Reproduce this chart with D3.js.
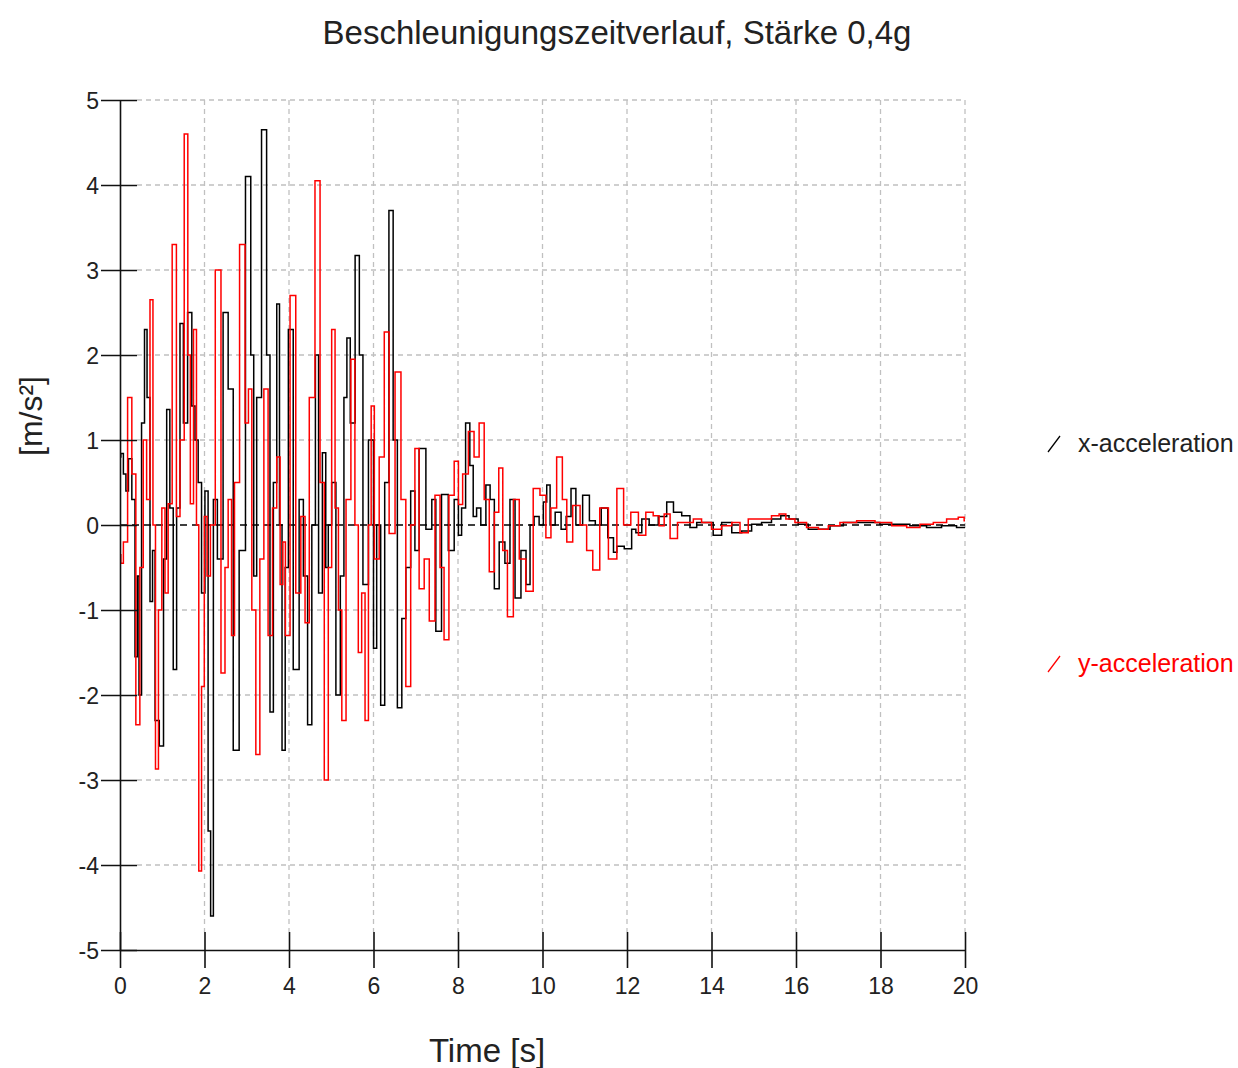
<!DOCTYPE html>
<html lang="de">
<head>
<meta charset="utf-8">
<title>Beschleunigungszeitverlauf</title>
<script src="https://cdn.jsdelivr.net/npm/d3@7"></script>
<style>
  body { margin: 0; background: #fff; }
  text { font-family: "Liberation Sans", Arial, sans-serif; }
</style>
</head>
<body>
<script>
// time ticks and acceleration ticks
var xTicks = [0, 2, 4, 6, 8, 10, 12, 14, 16, 18, 20];
var yTicks = [-5, -4, -3, -2, -1, 0, 1, 2, 3, 4, 5];
var seriesNames = ["x-acceleration", "y-acceleration"];
var seriesColors = ["#000000", "#ff0000"];

// x-acceleration [time s, m/s²] (extrema)
var xAcc = [[0,0.8],[0.04,0.84],[0.12,0.6],[0.16,0.4],[0.24,0.78],[0.32,0.3],[0.39,-1.55],[0.43,-0.6],[0.47,-2.0],
  [0.55,1.2],[0.61,2.3],[0.67,1.5],[0.75,-0.9],[0.79,-0.3],[0.87,-2.3],[0.99,-2.6],[1.07,-0.4],[1.14,1.36],
  [1.22,0.2],[1.3,-1.7],[1.38,0.2],[1.46,2.37],[1.54,1.2],[1.66,2.5],[1.74,1.4],[1.81,1.0],[1.89,0.5],[1.97,-0.8],
  [2.05,0.4],[2.12,-3.6],[2.17,-4.6],[2.25,0.3],[2.36,-0.4],[2.52,2.5],[2.6,1.6],[2.76,-2.65],[2.88,-0.3],[3.06,4.1],
  [3.13,2.0],[3.2,-0.6],[3.27,1.5],[3.43,4.65],[3.51,2.0],[3.59,-2.2],[3.67,0.5],[3.75,2.6],[3.8,0.0],[3.87,-2.65],
  [3.95,-0.5],[4.02,2.3],[4.18,-1.7],[4.3,0.3],[4.38,-0.6],[4.5,-2.35],[4.58,0.0],[4.67,2.0],[4.73,-0.8],[4.85,0.85],
  [4.89,-0.5],[4.97,0.0],[5.05,0.5],[5.17,-2.0],[5.26,-0.6],[5.34,1.5],[5.4,2.2],[5.5,1.2],[5.63,3.17],[5.7,2.0],
  [5.8,-0.7],[5.96,1.0],[6.04,-1.45],[6.11,0.0],[6.23,-2.12],[6.3,0.5],[6.43,3.7],[6.5,1.0],[6.63,-2.15],[6.71,-1.1],
  [6.82,-0.5],[6.94,0.4],[7.02,-0.3],[7.14,0.9],[7.34,-0.05],[7.42,0.3],[7.53,-1.25],[7.69,0.36],[7.85,-0.3],[7.97,0.3],
  [8.05,-0.12],[8.12,0.2],[8.24,1.2],[8.32,0.7],[8.4,0.1],[8.48,0.2],[8.6,0.0],[8.72,0.47],[8.8,0.3],[8.92,-0.75],
  [9.03,-0.2],[9.19,-0.45],[9.27,0.3],[9.43,-0.86],[9.55,-0.3],[9.67,-0.7],[9.74,0.0],[9.86,0.1],[9.98,0.0],[10.06,0.27],
  [10.14,0.47],[10.22,0.0],[10.38,0.15],[10.5,-0.05],[10.62,0.1],[10.73,0.43],[10.85,0.0],[11.05,0.35],[11.17,0.05],
  [11.33,0.0],[11.45,0.2],[11.64,-0.15],[11.72,-0.32],[11.8,-0.25],[12.07,-0.28],[12.15,-0.05],[12.27,-0.09],[12.43,0.07],
  [12.62,0.0],[12.86,0.1],[13.02,0.27],[13.18,0.15],[13.41,0.11],[13.57,-0.03],[13.73,0.03],[13.96,0.03],[14.12,-0.12],
  [14.36,0.03],[14.6,-0.09],[14.83,-0.07],[15.07,0.01],[15.3,0.03],[15.54,0.07],[15.74,0.11],[15.93,0.07],[16.17,0.01],
  [16.41,-0.05],[16.73,-0.05],[16.88,-0.01],[17.36,0.03],[17.83,0.03],[18.14,0.01],[18.46,0.01],[18.93,-0.01],
  [19.25,-0.03],[19.64,-0.01],[19.96,-0.03],[20,-0.03]];

// y-acceleration [time s, m/s²]
var yAcc = [[0,-0.35],[0.04,-0.45],[0.12,-0.2],[0.24,1.5],[0.32,0.6],[0.43,-2.35],[0.51,-0.5],[0.59,1.0],[0.67,0.3],
  [0.75,2.65],[0.81,0.0],[0.87,-2.87],[0.95,-1.0],[1.03,0.2],[1.1,-0.8],[1.18,0.25],[1.29,3.3],[1.38,0.1],[1.46,1.0],
  [1.58,4.6],[1.63,2.0],[1.7,0.25],[1.78,2.3],[1.84,0.0],[1.89,-4.07],[1.97,-1.9],[2.02,0.1],[2.1,-0.6],[2.18,0.0],
  [2.33,3.0],[2.45,-1.74],[2.52,-0.5],[2.6,0.3],[2.68,-1.3],[2.74,0.5],[2.92,3.3],[3.0,1.2],[3.08,1.6],[3.16,-1.0],
  [3.27,-2.7],[3.35,-0.4],[3.46,1.6],[3.55,-1.3],[3.67,0.2],[3.75,0.8],[3.83,-0.7],[3.88,-0.2],[3.95,-1.3],[4.1,2.7],
  [4.22,-0.8],[4.34,0.1],[4.42,-1.15],[4.54,1.5],[4.69,4.05],[4.78,0.5],[4.89,-3.0],[4.97,-0.5],[5.05,2.3],[5.13,0.2],
  [5.21,-1.0],[5.29,-2.3],[5.41,0.3],[5.52,1.95],[5.6,0.0],[5.68,-1.5],[5.76,-0.8],[5.84,-2.3],[5.92,0.0],[5.97,1.4],
  [6.07,-0.4],[6.2,0.8],[6.31,2.27],[6.43,-0.1],[6.59,1.8],[6.71,0.3],[6.82,-1.9],[6.94,0.0],[7.02,0.9],[7.14,-0.75],
  [7.26,-0.4],[7.38,-1.13],[7.53,0.35],[7.62,-0.5],[7.72,-1.35],[7.85,0.35],[7.97,0.75],[8.05,0.24],[8.17,0.6],
  [8.32,1.1],[8.44,0.8],[8.56,1.2],[8.68,0.3],[8.8,-0.55],[8.92,0.15],[9.01,0.67],[9.11,-0.3],[9.23,-1.08],[9.39,0.3],
  [9.51,-0.4],[9.7,-0.78],[9.86,0.43],[10.02,0.35],[10.14,-0.15],[10.26,0.2],[10.41,0.8],[10.53,0.3],[10.62,-0.2],
  [10.81,0.23],[10.97,0.0],[11.12,-0.3],[11.26,-0.53],[11.45,0.2],[11.67,-0.4],[11.85,0.43],[11.99,0.0],[12.19,0.15],
  [12.35,-0.12],[12.54,0.15],[12.7,0.11],[12.82,-0.01],[12.94,0.13],[13.1,-0.16],[13.29,0.03],[13.49,0.03],[13.65,0.07],
  [13.88,0.03],[14.12,-0.05],[14.36,-0.01],[14.6,0.03],[14.75,-0.09],[14.99,0.07],[15.3,0.07],[15.54,0.11],[15.66,0.13],
  [15.86,0.07],[16.09,0.03],[16.41,-0.03],[16.65,-0.05],[16.88,-0.01],[17.2,0.03],[17.67,0.05],[18.07,0.03],[18.46,-0.01],
  [18.78,-0.03],[19.09,0.01],[19.41,0.03],[19.72,0.07],[19.96,0.09],[20,0.05]];

var width = 1238;
var height = 1068;
var plotLeft = 120, plotRight = 965, plotTop = 100, plotBottom = 950;

var svg = d3.select("body").append("svg")
  .attr("width", width)
  .attr("height", height);

svg.append("rect").attr("width", width).attr("height", height).attr("fill", "#fff");

var x = d3.scaleLinear().domain([0, 20]).range([plotLeft, plotRight]);
var y = d3.scaleLinear().domain([-5, 5]).range([plotBottom, plotTop]);

// dashed grid
var grid = svg.append("g").attr("stroke", "#c0c0c0").attr("stroke-width", 1.3)
  .attr("stroke-dasharray", "5,4");
grid.selectAll(".gx").data(xTicks.filter(function (d) { return d > 0; })).enter().append("line")
  .attr("x1", function (d) { return x(d); }).attr("x2", function (d) { return x(d); })
  .attr("y1", plotTop).attr("y2", plotBottom - 18);
grid.selectAll(".gy").data(yTicks.filter(function (d) { return d !== 0 && d !== -5; })).enter().append("line")
  .attr("x1", plotLeft + 17).attr("x2", plotRight)
  .attr("y1", function (d) { return y(d); }).attr("y2", function (d) { return y(d); });

// zero line
svg.append("line")
  .attr("x1", plotLeft).attr("x2", plotRight).attr("y1", y(0)).attr("y2", y(0))
  .attr("stroke", "#000").attr("stroke-width", 1.3).attr("stroke-dasharray", "7,5");

// series lines, sample-and-hold look
var line = d3.line()
  .curve(d3.curveStep)
  .x(function (d) { return x(d[0]); })
  .y(function (d) { return y(d[1]); });

[xAcc, yAcc].forEach(function (s, i) {
  svg.append("path")
    .datum(s)
    .attr("fill", "none")
    .attr("stroke", seriesColors[i])
    .attr("stroke-width", 1.5)
    .attr("d", line);
});

// axes
var fmt = function (d) { return String(d); };
var xAxis = svg.append("g")
  .attr("transform", "translate(0," + plotBottom + ")")
  .call(d3.axisBottom(x).tickValues(xTicks).tickFormat(fmt).tickSizeOuter(0));
xAxis.selectAll(".tick line").attr("y1", -18).attr("y2", 18).attr("stroke-width", 1.6);
xAxis.selectAll(".tick text").attr("y", 44).attr("dy", 0).attr("font-size", 23).attr("fill", "#222");
xAxis.select(".domain").attr("stroke-width", 1.6);

var yAxis = svg.append("g")
  .attr("transform", "translate(" + plotLeft + ",0)")
  .call(d3.axisLeft(y).tickValues(yTicks).tickFormat(fmt).tickSizeOuter(0));
yAxis.selectAll(".tick line").attr("x1", -19).attr("x2", 17).attr("stroke-width", 1.6);
yAxis.selectAll(".tick text").attr("x", -21).attr("dy", "0.36em").attr("font-size", 23).attr("fill", "#222");
yAxis.select(".domain").attr("stroke-width", 1.6);
svg.selectAll(".domain, .tick line").attr("stroke", "#111");
svg.selectAll(".tick text").attr("font-family", "Liberation Sans, Arial, sans-serif");

// titles
svg.append("text")
  .attr("x", 617).attr("y", 44)
  .attr("text-anchor", "middle")
  .attr("font-size", 33).attr("fill", "#222")
  .text("Beschleunigungszeitverlauf, Stärke 0,4g");

svg.append("text")
  .attr("x", 487).attr("y", 1062)
  .attr("text-anchor", "middle")
  .attr("font-size", 33).attr("fill", "#222")
  .text("Time [s]");

svg.append("text")
  .attr("transform", "translate(42,416) rotate(-90)")
  .attr("text-anchor", "middle")
  .attr("font-size", 32).attr("fill", "#222")
  .text("[m/s²]");

// legend
var legendY = [444, 664];
var legend = svg.selectAll(".legend").data(seriesNames).enter().append("g")
  .attr("class", "legend")
  .attr("transform", function (d, i) { return "translate(1048," + legendY[i] + ")"; });
legend.append("line")
  .attr("x1", 0).attr("y1", 8).attr("x2", 12).attr("y2", -8)
  .attr("stroke", function (d, i) { return seriesColors[i]; })
  .attr("stroke-width", 1.3);
legend.append("text")
  .attr("x", 30).attr("y", 8)
  .attr("font-size", 25)
  .attr("fill", function (d, i) { return i === 0 ? "#222" : seriesColors[i]; })
  .text(function (d) { return d; });
</script>
</body>
</html>
